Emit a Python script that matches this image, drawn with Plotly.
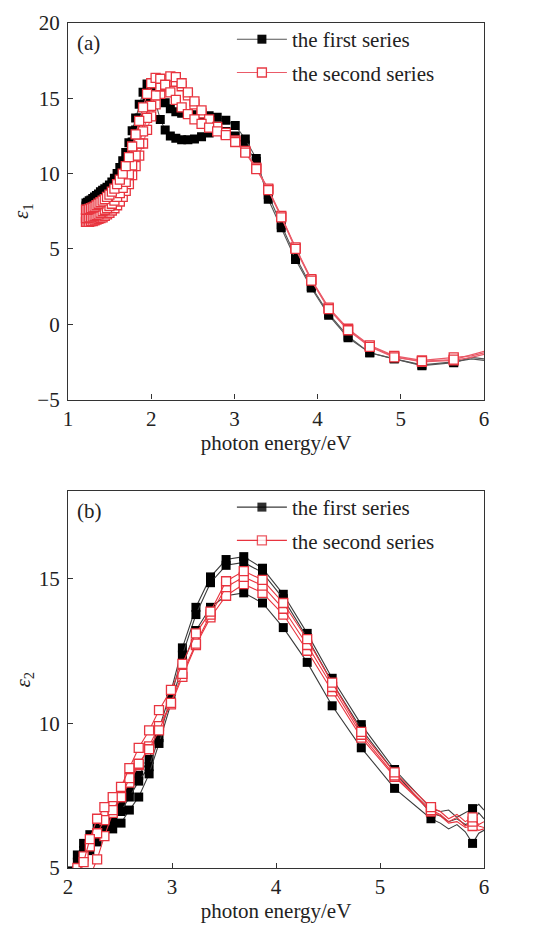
import plotly.graph_objects as go

# ---------------- panel (a): eps1 ----------------
energy_a = [1.216, 1.235, 1.255, 1.276, 1.297, 1.319, 1.342, 1.366, 1.390, 1.416,
            1.442, 1.469, 1.498, 1.527, 1.558, 1.590, 1.623, 1.658, 1.694, 1.732,
            1.771, 1.813, 1.856, 1.902, 1.950, 2.000, 2.053, 2.109, 2.168, 2.230,
            2.296, 2.366, 2.441, 2.520, 2.605, 2.696, 2.793, 2.897, 3.010, 3.131,
            3.263, 3.407, 3.563, 3.735, 3.924, 4.133, 4.366, 4.627, 4.921, 5.254,
            5.636, 5.85, 6.0]
marker_a = [1] * 51 + [0, 0]

eps1_first_1 = [8.05, 8.1, 8.2, 8.25, 8.35, 8.45, 8.55, 8.65, 8.8, 8.9,
                9.0, 9.1, 9.25, 9.45, 9.7, 10.0, 10.4, 10.85, 11.4, 12.05,
                12.85, 13.7, 14.6, 15.4, 15.95, 15.8, 14.7, 13.6, 12.9, 12.5,
                12.35, 12.25, 12.25, 12.3, 12.45, 12.7, 12.8, 12.8, 12.5, 11.9,
                10.8, 8.6, 6.6, 4.5, 2.5, 0.7, -0.8, -1.9, -2.3, -2.7,
                -2.5, -2.3, -2.4]
eps1_first_2 = [7.85, 7.9, 7.95, 8.0, 8.1, 8.2, 8.3, 8.4, 8.5, 8.6,
                8.7, 8.8, 8.95, 9.1, 9.3, 9.55, 9.9, 10.3, 10.8, 11.4,
                12.1, 12.9, 13.7, 14.4, 14.9, 15.2, 15.3, 15.2, 14.7, 14.3,
                14.1, 14.0, 13.95, 13.9, 13.85, 13.85, 13.75, 13.55, 13.2, 12.3,
                11.0, 8.3, 6.4, 4.3, 2.4, 0.6, -0.9, -1.9, -2.3, -2.75,
                -2.55, -2.2, -2.3]
eps1_second_1 = [7.6, 7.6, 7.65, 7.7, 7.75, 7.8, 7.9, 8.0, 8.1, 8.2,
                 8.3, 8.45, 8.6, 8.8, 9.0, 9.3, 9.6, 10.0, 10.5, 11.1,
                 11.8, 12.6, 13.5, 14.4, 15.3, 16.0, 16.35, 16.3, 15.9, 15.4,
                 14.9, 14.4, 13.95, 13.6, 13.3, 13.05, 12.8, 12.55, 12.1, 11.4,
                 10.3, 8.9, 7.1, 5.0, 2.9, 1.0, -0.4, -1.5, -2.2, -2.45,
                 -2.35, -2.0, -1.8]
eps1_second_2 = [7.05, 7.05, 7.1, 7.1, 7.15, 7.2, 7.25, 7.3, 7.4, 7.5,
                 7.6, 7.7, 7.85, 8.0, 8.2, 8.45, 8.7, 9.05, 9.45, 9.95,
                 10.55, 11.2, 12.0, 12.8, 13.7, 14.5, 15.2, 15.8, 16.2, 16.45,
                 16.4, 16.0, 15.4, 14.8, 14.2, 13.6, 13.1, 12.7, 12.2, 11.5,
                 10.4, 9.0, 7.2, 5.1, 3.0, 1.1, -0.3, -1.4, -2.1, -2.4,
                 -2.2, -2.1, -1.9]
eps1_second_3 = [6.8, 6.8, 6.8, 6.85, 6.85, 6.9, 6.95, 7.0, 7.05, 7.1,
                 7.2, 7.3, 7.4, 7.55, 7.7, 7.9, 8.15, 8.45, 8.85, 9.3,
                 9.9, 10.5, 11.2, 12.0, 12.9, 13.8, 14.6, 15.3, 15.8, 16.1,
                 16.1, 15.8, 15.2, 14.6, 14.0, 13.4, 12.95, 12.6, 12.15, 11.45,
                 10.35, 8.95, 7.15, 5.05, 2.95, 1.05, -0.35, -1.45, -2.15, -2.5,
                 -2.4, -2.2, -2.0]

# ---------------- panel (b): eps2 ----------------
energy_b = [2.03, 2.09, 2.15, 2.21, 2.28, 2.35, 2.43, 2.51, 2.59, 2.68,
            2.78, 2.875, 2.99, 3.10, 3.23, 3.37, 3.52, 3.69, 3.87, 4.07,
            4.30, 4.54, 4.82, 5.14, 5.49, 5.58, 5.66, 5.74, 5.82, 5.89,
            5.95, 6.0]
marker_b = [1] * 25 + [0, 0, 0, 0, 1, 0, 0]

eps2_first_1 = [4.9, 5.45, 5.85, 6.15, 6.4, 6.6, 6.8, 7.15, 7.7, 8.2,
                8.75, 9.8, 11.1, 12.6, 14.0, 15.05, 15.65, 15.75, 15.35, 14.45,
                13.1, 11.55, 9.95, 8.4, 7.05, 6.95, 7.0, 6.75, 6.9, 7.05,
                7.2, 7.0]
eps2_first_2 = [4.7, 5.2, 5.6, 5.95, 6.2, 6.4, 6.6, 6.95, 7.45, 8.0,
                8.5, 9.5, 10.9, 12.35, 13.75, 14.85, 15.45, 15.55, 15.2, 14.3,
                12.95, 11.4, 9.8, 8.3, 6.9, 6.8, 6.6, 6.7, 6.5, 6.6,
                6.9, 6.7]
eps2_first_3 = [4.5, 4.85, 5.2, 5.6, 5.9, 6.1, 6.35, 6.55, 7.0, 7.45,
                8.25, 9.3, 10.7, 12.0, 13.2, 14.0, 14.4, 14.5, 14.15, 13.3,
                12.1, 10.6, 9.15, 7.75, 6.7, 6.55, 6.35, 6.5, 6.25, 5.85,
                6.2, 6.3]
eps2_second_1 = [4.4, 4.8, 5.2, 6.0, 6.7, 7.1, 7.45, 7.8, 8.45, 9.15,
                 9.75, 10.45, 11.15, 12.05, 13.1, 13.85, 14.9, 15.25, 14.95, 14.15,
                 12.9, 11.4, 9.7, 8.3, 7.1, 6.95, 6.7, 6.85, 6.6, 6.75,
                 6.5, 6.6]
eps2_second_2 = [4.6, 5.0, 5.4, 5.75, 6.2, 6.65, 7.0, 7.45, 8.1, 8.6,
                 9.1, 9.75, 10.7, 11.7, 12.75, 13.75, 14.7, 15.05, 14.75, 13.95,
                 12.7, 11.25, 9.6, 8.2, 7.0, 6.85, 6.6, 6.75, 6.45, 6.6,
                 6.45, 6.4]
eps2_second_3 = [3.5, 3.9, 4.3, 4.7, 5.3, 6.1, 6.9, 7.45, 7.95, 8.55,
                 9.2, 9.9, 10.65, 11.6, 12.7, 13.65, 14.4, 14.8, 14.5, 13.75,
                 12.5, 11.1, 9.5, 8.15, 6.95, 6.8, 6.55, 6.6, 6.4, 6.45,
                 6.3, 6.35]

series_names = ["the first series", "the second series"]

FONT = "Liberation Serif"
BLACK_LINE = "#3a3a3a"
RED = "#e8343f"
RED_A_LINE = "#ea5a68"

fig = go.Figure()


def add_curve(x, y, flags, kind, xa, ya, legend, show, line_color):
    if kind == 0:
        marker = dict(symbol="square", size=9, color="black",
                      opacity=flags, line=dict(width=0))
        name = series_names[0]
    else:
        marker = dict(symbol="square", size=9, color="white",
                      opacity=flags, line=dict(color=RED, width=1.3))
        name = series_names[1]
    fig.add_trace(go.Scatter(
        x=x, y=y, mode="lines+markers", name=name,
        line=dict(color=line_color, width=1.1),
        marker=marker, xaxis=xa, yaxis=ya,
        legend=legend, legendgroup=legend + name, showlegend=show))


# panel (a)
add_curve(energy_a, eps1_first_1, marker_a, 0, "x", "y", "legend", True, "#555555")
add_curve(energy_a, eps1_first_2, marker_a, 0, "x", "y", "legend", False, "#555555")
add_curve(energy_a, eps1_second_3, marker_a, 1, "x", "y", "legend", False, RED_A_LINE)
add_curve(energy_a, eps1_second_2, marker_a, 1, "x", "y", "legend", False, RED_A_LINE)
add_curve(energy_a, eps1_second_1, marker_a, 1, "x", "y", "legend", True, RED_A_LINE)

# panel (b)
add_curve(energy_b, eps2_first_1, marker_b, 0, "x2", "y2", "legend2", True, BLACK_LINE)
add_curve(energy_b, eps2_first_2, marker_b, 0, "x2", "y2", "legend2", False, BLACK_LINE)
add_curve(energy_b, eps2_first_3, marker_b, 0, "x2", "y2", "legend2", False, BLACK_LINE)
add_curve(energy_b, eps2_second_3, marker_b, 1, "x2", "y2", "legend2", False, RED)
add_curve(energy_b, eps2_second_2, marker_b, 1, "x2", "y2", "legend2", False, RED)
add_curve(energy_b, eps2_second_1, marker_b, 1, "x2", "y2", "legend2", True, RED)

axis_common = dict(
    showline=True, mirror=True, linecolor="#333333", linewidth=1.3,
    ticks="inside", ticklen=5, tickwidth=1.2, tickcolor="#333333",
    showgrid=False, zeroline=False, automargin=False,
    tickfont=dict(family=FONT, size=21, color="#222222"),
)

# the page body has an 8px margin, so the figure is sized/offset to compensate
fig.update_layout(
    width=533, height=922,
    margin=dict(l=60, r=57, t=14, b=62),
    plot_bgcolor="white", paper_bgcolor="white",
    font=dict(family=FONT, size=21, color="#222222"),
    xaxis=dict(axis_common, range=[1, 6], dtick=1, anchor="y",
               title=dict(text="photon energy/eV", standoff=4,
                          font=dict(family=FONT, size=21))),
    yaxis=dict(axis_common, range=[-5, 20], dtick=5, domain=[0.5544, 1.0],
               anchor="x", ticklabelstandoff=3,
               title=dict(text="<i>ε</i><sub>1</sub>", standoff=2,
                          font=dict(family=FONT, size=21))),
    xaxis2=dict(axis_common, range=[2, 6], dtick=1, anchor="y2",
                title=dict(text="photon energy/eV", standoff=4,
                           font=dict(family=FONT, size=21))),
    yaxis2=dict(axis_common, range=[5, 18], tickvals=[5, 10, 15],
                domain=[0.0, 0.4456], anchor="x2", ticklabelstandoff=3,
                title=dict(text="<i>ε</i><sub>2</sub>", standoff=2,
                           font=dict(family=FONT, size=21))),
    legend=dict(x=0.394, y=1.0035, xanchor="left", yanchor="top",
                bgcolor="rgba(0,0,0,0)", font=dict(family=FONT, size=21),
                tracegroupgap=3, itemwidth=50),
    legend2=dict(x=0.394, y=0.4504, xanchor="left", yanchor="top",
                 bgcolor="rgba(0,0,0,0)", font=dict(family=FONT, size=21),
                 tracegroupgap=3, itemwidth=50),
    annotations=[
        dict(text="(a)", x=0.018, y=0.9767, xref="paper", yref="paper",
             xanchor="left", yanchor="middle", showarrow=False,
             font=dict(family=FONT, size=21)),
        dict(text="(b)", x=0.018, y=0.4223, xref="paper", yref="paper",
             xanchor="left", yanchor="middle", showarrow=False,
             font=dict(family=FONT, size=21)),
    ],
)

fig.write_html("out.html")
